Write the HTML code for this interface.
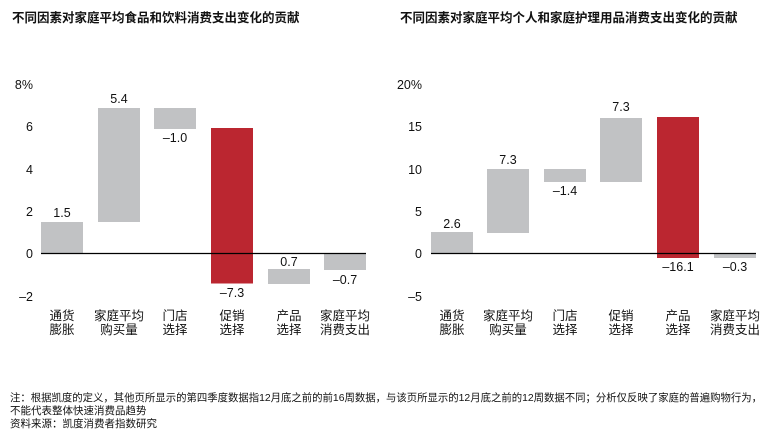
<!DOCTYPE html>
<html><head><meta charset="utf-8"><style>
body{margin:0;background:#fff}
svg text{font-family:"Liberation Sans","Noto Sans CJK SC",sans-serif;fill:#111}
</style></head><body>
<svg width="771" height="439" viewBox="0 0 771 439" xmlns="http://www.w3.org/2000/svg">
<text x="12" y="22" font-size="12.5" font-weight="bold">不同因素对家庭平均食品和饮料消费支出变化的贡献</text>
<text x="400" y="22" font-size="12.5" font-weight="bold">不同因素对家庭平均个人和家庭护理用品消费支出变化的贡献</text>
<g font-size="12.5" text-anchor="end">
<text x="33" y="89">8%</text><text x="33" y="131">6</text><text x="33" y="174">4</text><text x="33" y="216">2</text><text x="33" y="258">0</text><text x="33" y="301">–2</text>
<text x="422" y="89">20%</text><text x="422" y="131">15</text><text x="422" y="174">10</text><text x="422" y="216">5</text><text x="422" y="258">0</text><text x="422" y="301">–5</text>
</g>
<g fill="#c1c2c4">
<rect x="41" y="222" width="42" height="31.5"/><rect x="98" y="108" width="42" height="114"/><rect x="154" y="108" width="42" height="21"/>
<rect x="268" y="269" width="42" height="15"/><rect x="324" y="253.5" width="42" height="16.5"/>
<rect x="431" y="232" width="42" height="21.5"/><rect x="487" y="169" width="42" height="64"/><rect x="544" y="169" width="42" height="13"/>
<rect x="600" y="118" width="42" height="64"/><rect x="714" y="253.5" width="42" height="4.5"/>
</g>
<rect x="211" y="128" width="42" height="155.5" fill="#bb2630"/>
<rect x="657" y="117" width="42" height="141" fill="#bb2630"/>
<line x1="41" y1="253.5" x2="366" y2="253.5" stroke="#000" stroke-width="1.3"/>
<line x1="431" y1="253.5" x2="756" y2="253.5" stroke="#000" stroke-width="1.3"/>
<g font-size="12.5" text-anchor="middle">
<text x="62" y="217">1.5</text><text x="119" y="103">5.4</text><text x="175" y="142">–1.0</text><text x="232" y="297">–7.3</text><text x="289" y="266">0.7</text><text x="345" y="284">–0.7</text>
<text x="452" y="228">2.6</text><text x="508" y="164">7.3</text><text x="565" y="195">–1.4</text><text x="621" y="111">7.3</text><text x="678" y="271">–16.1</text><text x="735" y="271">–0.3</text>
</g>
<g font-size="12.5" text-anchor="middle">
<text x="62" y="320">通货</text><text x="62" y="334">膨胀</text>
<text x="119" y="320">家庭平均</text><text x="119" y="334">购买量</text>
<text x="175" y="320">门店</text><text x="175" y="334">选择</text>
<text x="232" y="320">促销</text><text x="232" y="334">选择</text>
<text x="289" y="320">产品</text><text x="289" y="334">选择</text>
<text x="345" y="320">家庭平均</text><text x="345" y="334">消费支出</text>
<text x="452" y="320">通货</text><text x="452" y="334">膨胀</text>
<text x="508" y="320">家庭平均</text><text x="508" y="334">购买量</text>
<text x="565" y="320">门店</text><text x="565" y="334">选择</text>
<text x="621" y="320">促销</text><text x="621" y="334">选择</text>
<text x="678" y="320">产品</text><text x="678" y="334">选择</text>
<text x="735" y="320">家庭平均</text><text x="735" y="334">消费支出</text>
</g>
<g font-size="10.5">
<text x="10" y="401" textLength="752" lengthAdjust="spacingAndGlyphs">注：根据凯度的定义，其他页所显示的第四季度数据指12月底之前的前16周数据，与该页所显示的12月底之前的12周数据不同；分析仅反映了家庭的普遍购物行为，</text>
<text x="10" y="414">不能代表整体快速消费品趋势</text>
<text x="10" y="427">资料来源：凯度消费者指数研究</text>
</g>
</svg>
</body></html>
